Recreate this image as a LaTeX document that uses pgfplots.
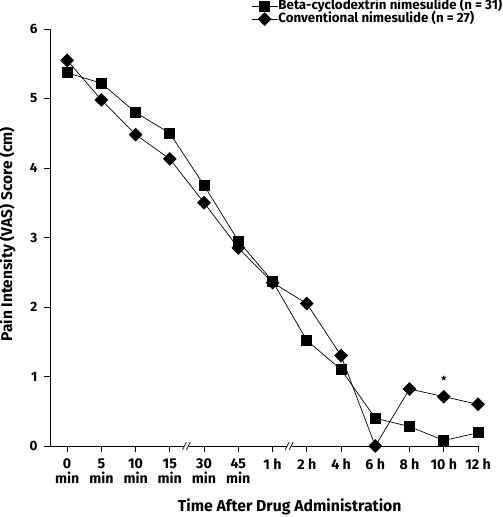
\documentclass[border=0pt]{standalone}
\usepackage{pgfplots}
\pgfplotsset{compat=1.18}
\usepackage{fontspec}
\setmainfont{Fira Sans}
\begin{document}
\begin{tikzpicture}[x=1bp,y=1bp]
\useasboundingbox (-50bp,-71bp) rectangle (453bp,446bp);
\begin{axis}[
  scale only axis,
  width=428bp, height=417bp,
  xmin=-0.5, xmax=12, ymin=0, ymax=6,
  axis lines=left,
  axis line style={-, line width=0.8bp},
  tick align=outside,
  major tick length=6bp,
  tick style={line width=0.8bp, black},
  xtick={0,...,12},
  xticklabels={0\\min,5\\min,10\\min,15\\min,30\\min,45\\min,1 h,2 h,4 h,6 h,8 h,10 h,12 h},
  xticklabel style={align=center, font=\fontsize{14.2bp}{14.5bp}\selectfont\bfseries, yshift=-3.5bp},
  ytick={0,1,2,3,4,5,6},
  yticklabel style={font=\fontsize{13.5bp}{15bp}\selectfont\bfseries, xshift=-3bp},
  /pgf/number format/assume math mode=true,
  xlabel={Time After Drug Administration},
  ylabel={Pain Intensity (VAS) Score (cm)},
  xlabel style={at={(axis description cs:0.56,-0.146)}, anchor=center, font=\fontsize{15.8bp}{18bp}\selectfont\bfseries},
  ylabel style={at={(axis description cs:-0.100,0.508)}, anchor=center, font=\fontsize{15.5bp}{17bp}\selectfont\bfseries},
  clip=false,
  legend style={at={(1.0584,1.0695)}, anchor=north east, draw=none, fill=none,
    inner sep=0pt, font=\fontsize{13.3bp}{14bp}\selectfont\bfseries, row sep=0pt,
    nodes={inner sep=0.5bp, text height=9bp, text depth=2.5bp},
    cells={anchor=west}},
  legend image code/.code={\draw[mark repeat=2,mark phase=2] plot coordinates {(0bp,0bp)(13bp,0bp)(26bp,0bp)};},
  every axis plot/.append style={black, line width=0.7bp},
]
\addplot[mark=square*, mark size=5bp] coordinates {
(0,5.37)(1,5.22)(2,4.80)(3,4.50)(4,3.75)(5,2.95)(6,2.37)(7,1.52)(8,1.10)(9,0.40)(10,0.28)(11,0.08)(12,0.19)};
\addlegendentry{Beta-cyclodextrin nimesulide (n = 31)}
\addplot[mark=square*, mark size=4.5bp, mark options={rotate=45}] coordinates {
(0,5.55)(1,4.98)(2,4.48)(3,4.13)(4,3.50)(5,2.85)(6,2.35)(7,2.05)(8,1.30)(9,0.00)(10,0.82)(11,0.71)(12,0.60)};
\addlegendentry{Conventional nimesulide (n = 27)}
\node[font=\fontsize{11bp}{13bp}\selectfont\bfseries] at (axis cs:11,0.95) {*};
\coordinate (b1) at (axis cs:3.5,0);
\coordinate (b2) at (axis cs:6.5,0);
\end{axis}
\foreach \b in {b1,b2} {
  \fill[white] (\b) ++(-2.5bp,-2bp) rectangle ++(5bp,4bp);
  \draw[line width=0.7bp] (\b) ++(-4.5bp,-4bp) -- ++(4bp,8bp);
  \draw[line width=0.7bp] (\b) ++(-0.5bp,-4bp) -- ++(4bp,8bp);
}
\end{tikzpicture}
\end{document}
